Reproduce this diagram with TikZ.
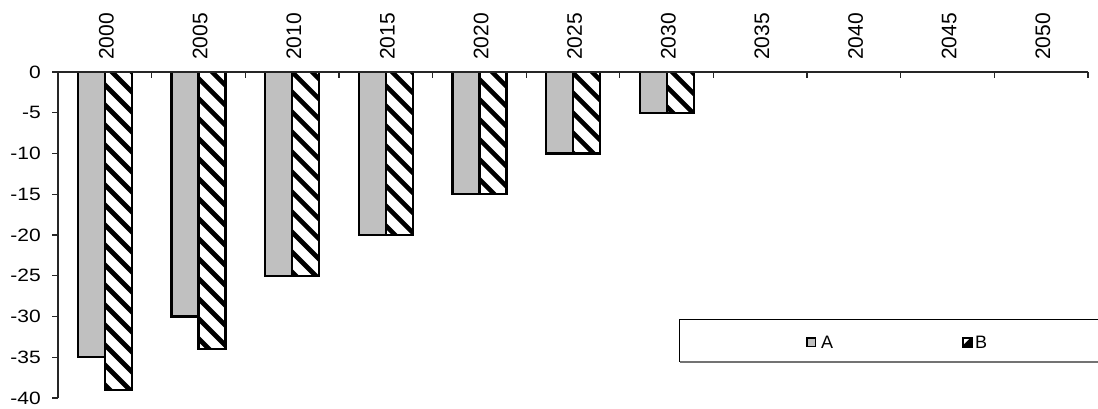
\documentclass[tikz,border=0pt]{standalone}
\usepackage{fontspec}
\setmainfont{Liberation Sans}
\definecolor{barA}{RGB}{192,192,192}
\begin{document}
\begin{tikzpicture}[x=1pt,y=-1pt,
  bara/.style={fill=barA,draw=black,line width=2.4pt},
  barbout/.style={draw=black,line width=2.4pt},
  stripe/.style={draw=black,line width=4.6pt},
  axisline/.style={draw=black!85,line width=1.2pt},
  ylab/.style={anchor=east,inner sep=0pt,font=\fontsize{21}{24}\selectfont},
  xlab/.style={anchor=west,rotate=90,inner sep=0pt,font=\fontsize{21}{24}\selectfont},
  leglab/.style={anchor=base west,inner sep=0pt,font=\fontsize{18}{21}\selectfont}]
\useasboundingbox (0,0) rectangle (1098,409);
\fill[white] (0,0) rectangle (1098,409);
% bars A
\foreach \i/\a in {0/35,1/30,2/25,3/20,4/15,5/10,6/5}{
  \pgfmathsetmacro\L{58+\i*93.636}
  \draw[bara] (\L+20,72) rectangle (\L+47,72+\a*8.15);
}
% bars B stripes
\begin{scope}
  \clip (58+0*93.636+47,72) rectangle (58+0*93.636+74,72+39*8.15)
        (58+1*93.636+47,72) rectangle (58+1*93.636+74,72+34*8.15)
        (58+2*93.636+47,72) rectangle (58+2*93.636+74,72+25*8.15)
        (58+3*93.636+47,72) rectangle (58+3*93.636+74,72+20*8.15)
        (58+4*93.636+47,72) rectangle (58+4*93.636+74,72+15*8.15)
        (58+5*93.636+47,72) rectangle (58+5*93.636+74,72+10*8.15)
        (58+6*93.636+47,72) rectangle (58+6*93.636+74,72+5*8.15);
  \foreach \t in {-440,-420,...,760}{
    \draw[stripe] (\t,0) -- (\t+420,420);
  }
\end{scope}
\foreach \i/\b in {0/39,1/34,2/25,3/20,4/15,5/10,6/5}{
  \pgfmathsetmacro\L{58+\i*93.636}
  \draw[barbout] (\L+47,72) rectangle (\L+74,72+\b*8.15);
}
% axes
\draw[axisline] (52,72) -- (1088,72);
\draw[axisline] (58,72) -- (58,398);
\foreach \k in {1,...,8}{
  \draw[axisline] (52,72+\k*40.75) -- (58,72+\k*40.75);
}
\foreach \i in {1,...,11}{
  \draw[axisline] (58+\i*93.636,72) -- (58+\i*93.636,78);
}
% y labels
\foreach \k in {0,...,8}{
  \pgfmathtruncatemacro\v{-5*\k}
  \node[ylab] (yl\k) at (41,72+\k*40.75) {\scalebox{1}[0.85]{\v}};
}
% x labels
\foreach \i/\yr in {0/2000,1/2005,2/2010,3/2015,4/2020,5/2025,6/2030,7/2035,8/2040,9/2045,10/2050}{
  \node[xlab] (xl\i) at (58+\i*93.636+47+1.5,60) {\yr};
}
% legend
\draw[black,line width=1pt] (679.5,319.5) rectangle (1110,361);
\draw[black!55,line width=2pt] (679.5,361.5) -- (1110,361.5);
\draw[fill=barA,draw=black,line width=1.8pt] (807,338) rectangle (815.5,346.5);
\node[leglab] (legA) at (821,348) {A};
\fill[black] (962,337) rectangle (972.5,347.5);
\fill[white] (964,339) -- (969,339) -- (964,344) -- cycle;
\node[leglab] (legB) at (975,348) {B};
\end{tikzpicture}
\end{document}
